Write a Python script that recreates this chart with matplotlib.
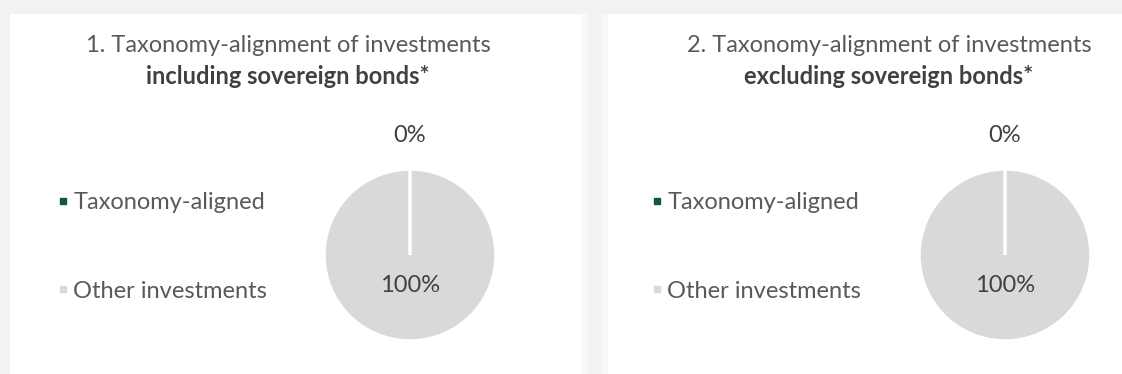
import matplotlib
matplotlib.use("Agg")
import matplotlib.pyplot as plt
from matplotlib.patches import Rectangle
from matplotlib.lines import Line2D
import numpy as np

categories = ["Taxonomy-aligned", "Other investments"]
values_incl = [0, 100]
values_excl = [0, 100]
titles_line1 = ["1. Taxonomy-alignment of investments", "2. Taxonomy-alignment of investments"]
titles_line2 = ["including sovereign bonds*", "excluding sovereign bonds*"]
pct_labels_incl = ["0%", "100%"]
pct_labels_excl = ["0%", "100%"]
colors = ["#0e5a36", "#d9d9d9"]

W, H = 1122, 374
plt.rcParams['font.family'] = ['Lato', 'DejaVu Sans']
fig = plt.figure(figsize=(W / 100, H / 100), dpi=100, facecolor="#f2f2f2")

def fx(x):
    return x / W

def fy(y):
    return 1 - y / H

# white panels
for x0, w, c in [(10, 572, "white"), (608, W - 608, "white"), (582, 6, "#f8f8f8"), (602, 6, "#f8f8f8")]:
    fig.patches.append(Rectangle((fx(x0), 0), fx(w), fy(14), transform=fig.transFigure,
                                 facecolor=c, edgecolor="none", zorder=-5))

panels = [
    dict(vals=values_incl, labels=pct_labels_incl, cx=410, cy=255, tx=288, legx=58, t1=titles_line1[0], t2=titles_line2[0]),
    dict(vals=values_excl, labels=pct_labels_excl, cx=1005, cy=255, tx=889, legx=652, t1=titles_line1[1], t2=titles_line2[1]),
]
R = 86
FS = 17

for p in panels:
    ax = fig.add_axes([fx(p["cx"] - R), fy(p["cy"] + R), fx(2 * R), 2 * R / H], zorder=2)
    ax.set_facecolor("none")
    wedges, _ = ax.pie(p["vals"], colors=colors, startangle=90, counterclock=False,
                       wedgeprops=dict(edgecolor="white", linewidth=2.5))
    wedges[0].set_zorder(5)
    ax.set_xlim(-1, 1)
    ax.set_ylim(-1, 1)
    ax.axis("off")
    dists = [1.39, 0.35]
    for w, lab, d in zip(wedges, p["labels"], dists):
        ang = np.deg2rad((w.theta1 + w.theta2) / 2)
        ax.text(d * np.cos(ang), d * np.sin(ang), lab, ha="center", va="center",
                fontsize=FS, color="#404040", clip_on=False)
    fig.text(fx(p["tx"]), fy(46), p["t1"], ha="center", va="center", fontsize=FS, color="#595959")
    fig.text(fx(p["tx"]), fy(77), p["t2"], ha="center", va="center", fontsize=FS,
             color="#404040", fontweight="bold")
    handles = [Line2D([], [], marker="s", linestyle="none", markersize=5,
                      markerfacecolor=c, markeredgecolor=c) for c in colors]
    fig.legend(handles, categories, loc="center left",
               bbox_to_anchor=(fx(p["legx"]), fy(247)), frameon=False,
               fontsize=FS, labelcolor="#595959", handlelength=0.45, handletextpad=0.2,
               labelspacing=2.85, borderpad=0, borderaxespad=0)

fig.savefig("out.png", dpi=100, facecolor=fig.get_facecolor())
